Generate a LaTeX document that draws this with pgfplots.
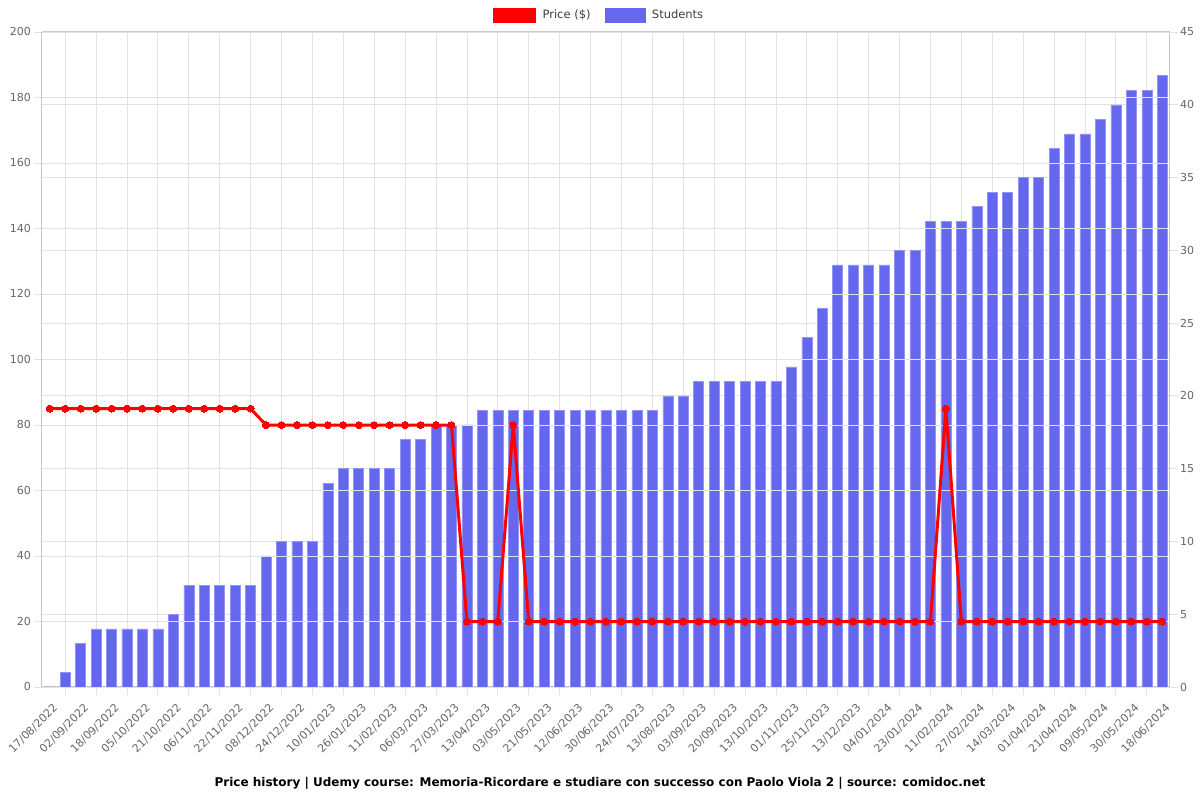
\documentclass[border=0pt]{standalone}
\usepackage{pgfplots}
\pgfplotsset{compat=1.18}
\usepackage{pgfplotstable}
\usepackage{fontspec}
\setmainfont{DejaVu Sans}
\definecolor{barblue}{RGB}{101,103,239}
\definecolor{ticktext}{RGB}{102,102,102}
\definecolor{gridgray}{RGB}{226,226,226}
\definecolor{axisgray}{RGB}{200,200,200}

% idx, students (right axis), price in $ (left axis)
\pgfplotstableread{
idx students price
0 0 84.99
1 1 84.99
2 3 84.99
3 4 84.99
4 4 84.99
5 4 84.99
6 4 84.99
7 4 84.99
8 5 84.99
9 7 84.99
10 7 84.99
11 7 84.99
12 7 84.99
13 7 84.99
14 9 79.99
15 10 79.99
16 10 79.99
17 10 79.99
18 14 79.99
19 15 79.99
20 15 79.99
21 15 79.99
22 15 79.99
23 17 79.99
24 17 79.99
25 18 79.99
26 18 79.99
27 18 19.99
28 19 19.99
29 19 19.99
30 19 79.99
31 19 19.99
32 19 19.99
33 19 19.99
34 19 19.99
35 19 19.99
36 19 19.99
37 19 19.99
38 19 19.99
39 19 19.99
40 20 19.99
41 20 19.99
42 21 19.99
43 21 19.99
44 21 19.99
45 21 19.99
46 21 19.99
47 21 19.99
48 22 19.99
49 24 19.99
50 26 19.99
51 29 19.99
52 29 19.99
53 29 19.99
54 29 19.99
55 30 19.99
56 30 19.99
57 32 19.99
58 32 84.99
59 32 19.99
60 33 19.99
61 34 19.99
62 34 19.99
63 35 19.99
64 35 19.99
65 37 19.99
66 38 19.99
67 38 19.99
68 39 19.99
69 40 19.99
70 41 19.99
71 41 19.99
72 42 19.99
}\data

\pgfplotsset{
  base/.style={
    at={(42pt,113pt)}, anchor=south west,
    scale only axis, width=1128pt, height=655pt,
    xmin=-0.5, xmax=72.5, ymin=0,
    axis line style={draw=axisgray, line width=1pt},
    grid style={draw=gridgray, line width=0.8pt},
    major tick length=8pt, minor tick length=8pt,
    tick align=outside,
    every tick/.style={draw=gridgray, line width=0.8pt},
    tick label style={font=\fontsize{11}{13}\selectfont, text=ticktext},
    /pgf/number format/assume math mode=true,
  }
}

\begin{document}
\begin{tikzpicture}
\useasboundingbox (0,0) rectangle (1200pt,800pt);

% students, right axis
\begin{axis}[base,
  ymax=45, ytick={0,5,...,45},
  axis y line*=right, ytick pos=right,
  ymajorgrids,
  yticklabel style={anchor=west, inner sep=0pt, xshift=2pt},
  xtick pos=bottom,
  xtick={0,2,...,72},
  minor xtick={1,3,...,71},
  xminorgrids,
  major x tick style={draw=none},
  xticklabels={17/08/2022,02/09/2022,18/09/2022,05/10/2022,21/10/2022,06/11/2022,22/11/2022,08/12/2022,24/12/2022,10/01/2023,26/01/2023,11/02/2023,06/03/2023,27/03/2023,13/04/2023,03/05/2023,21/05/2023,12/06/2023,30/06/2023,24/07/2023,13/08/2023,03/09/2023,20/09/2023,13/10/2023,01/11/2023,25/11/2023,13/12/2023,04/01/2024,23/01/2024,11/02/2024,27/02/2024,14/03/2024,01/04/2024,21/04/2024,09/05/2024,30/05/2024,18/06/2024},
  xticklabel style={inner sep=0pt, xshift=6pt, yshift=-11pt, rotate=45, anchor=east},
]
\addplot[ybar, bar width=10pt, fill=barblue, draw=barblue!70!white, line width=0.5pt] table[x=idx, y=students] {\data};
\end{axis}

% price, left axis
\begin{axis}[base,
  ymax=200, ytick={0,20,...,200},
  axis y line*=left, ytick pos=left,
  ymajorgrids,
  yticklabel style={anchor=east, inner sep=0pt, xshift=-3pt},
  axis x line=none,
  legend style={at={(0.494,1.026)}, anchor=center, draw=none, fill=none,
    font=\fontsize{11.5}{13}\selectfont, text=ticktext!60!black,
    legend columns=2,
    /tikz/every odd column/.append style={column sep=5pt},
    /tikz/every even column/.append style={column sep=12pt}},
  legend cell align=left,
]
\addlegendimage{legend image code/.code={\fill[red] (0pt,-7pt) rectangle (42pt,7pt);}}
\addlegendentry{Price (\$)}
\addlegendimage{legend image code/.code={\fill[barblue] (0pt,-7pt) rectangle (40pt,7pt);}}
\addlegendentry{Students}
\addplot[red, line width=3pt, mark=*, mark size=3.5pt, mark options={fill=red, draw=red, line width=0pt}, forget plot] table[x=idx, y=price] {\data};
\end{axis}

\node[font=\bfseries\fontsize{12}{14}\selectfont, text=black] at (600pt,17pt) {Price history | Udemy course: Memoria-Ricordare e studiare con successo con Paolo Viola 2 | source: comidoc.net};
\end{tikzpicture}
\end{document}
